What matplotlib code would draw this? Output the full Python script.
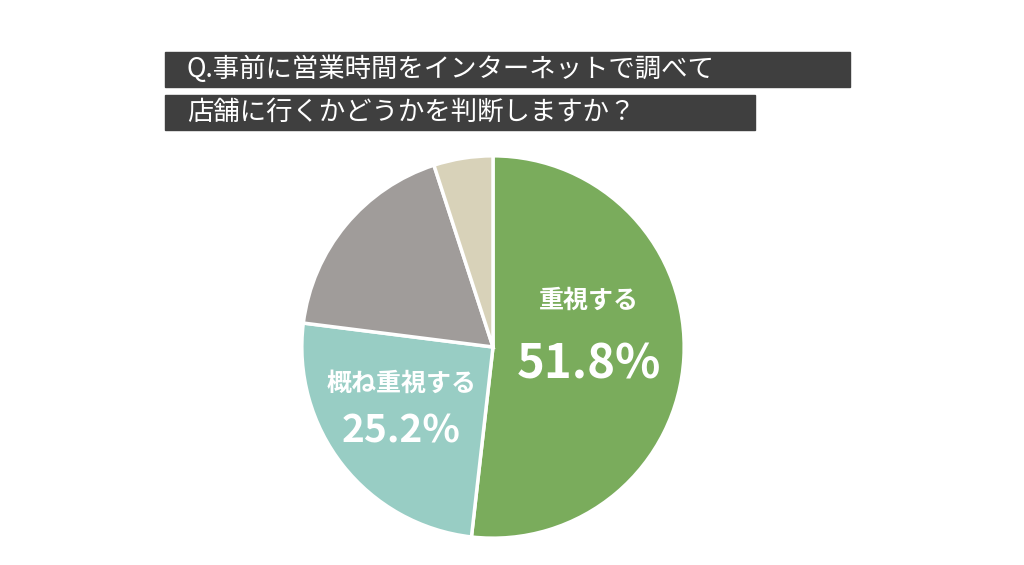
import matplotlib.pyplot as plt
from matplotlib.patches import Rectangle

plt.rcParams['font.family'] = ['Noto Sans CJK JP', 'DejaVu Sans']

labels = ['重視する', '概ね重視する', 'あまり重視しない', '重視しない']
values = [51.8, 25.2, 18.0, 5.0]
colors = ['#7aac5c', '#98cdc4', '#a09c9a', '#d8d2b9']
title_lines = ['Q.事前に営業時間をインターネットで調べて', '店舗に行くかどうかを判断しますか？']

W, H = 1024, 565
fig = plt.figure(figsize=(W / 100, H / 100), dpi=100)

# title boxes (pixel coords from top-left)
boxes = [(165, 52, 685, 35), (165, 95, 590, 35)]
for (x, y, w, h), line in zip(boxes, title_lines):
    fig.patches.append(Rectangle((x / W, 1 - (y + h) / H), w / W, h / H,
                                 transform=fig.transFigure, color='#3f3f3f'))
    fig.text((x + 22) / W, 1 - (y + h / 2) / H, line, color='white',
             fontsize=19, ha='left', va='center')

cx, cy, r = 493, 347, 195
ax = fig.add_axes([(cx - r) / W, (H - cy - r) / H, 2 * r / W, 2 * r / H])
ax.pie(values, colors=colors, startangle=90, counterclock=False, radius=1,
       wedgeprops=dict(edgecolor='white', linewidth=2.5))
ax.set_xlim(-1.02, 1.02)
ax.set_ylim(-1.02, 1.02)
ax.set_aspect('equal')
ax.axis('off')

ax.text(0.5, 0.24, labels[0], color='white', fontsize=18, fontweight='bold', ha='center', va='center')
ax.text(0.5, -0.09, f'{values[0]}%', color='white', fontsize=34, fontweight='bold', ha='center', va='center')
ax.text(-0.48, -0.19, labels[1], color='white', fontsize=18, fontweight='bold', ha='center', va='center')
ax.text(-0.48, -0.44, f'{values[1]}%', color='white', fontsize=28, fontweight='bold', ha='center', va='center')

fig.savefig('out.png', dpi=100)
